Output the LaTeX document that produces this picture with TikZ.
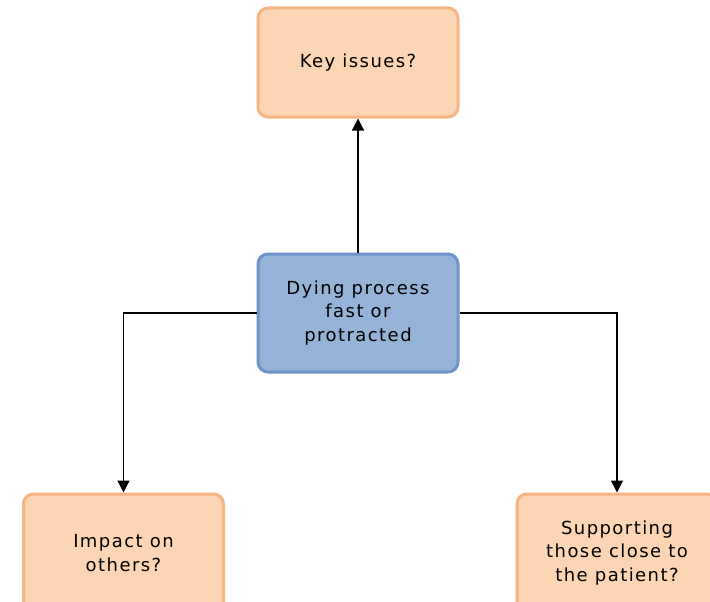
\documentclass[tikz,border=0pt]{standalone}
\usepackage{fontspec}
\setmainfont[LetterSpace=8]{DejaVu Sans}
\usetikzlibrary{arrows.meta}
\definecolor{orfill}{HTML}{FCD5B5}
\definecolor{ordraw}{HTML}{F8B584}
\definecolor{blfill}{HTML}{95B3D7}
\definecolor{bldraw}{HTML}{6F95C8}
\tikzset{
  obox/.style={draw=ordraw, fill=orfill, line width=3pt, rounded corners=10pt,
    minimum width=200pt, minimum height=109pt, align=center, inner sep=0pt,
    font=\fontsize{18}{23.5}\selectfont},
  bbox/.style={obox, draw=bldraw, fill=blfill, minimum height=118pt},
  conn/.style={line width=1.2pt, -{Triangle[length=12pt,width=12pt]}}
}
\begin{document}
\begin{tikzpicture}[x=1pt,y=-1pt]
\useasboundingbox (0,0) rectangle (710,602);
\clip (0,0) rectangle (710,602);
\fill[white] (0,0) rectangle (710,602);
\node[obox] (key) at (358,62.5) {Key issues?};
\node[bbox] (dying) at (358,313) {Dying process\\fast or\\protracted};
\node[obox, minimum height=118pt] (impact) at (123.5,553) {Impact on\\others?};
\node[obox, minimum height=118pt] (support) at (617,553) {Supporting\\those close to\\the patient?};
\draw[conn] (dying.north) -- (key.south);
\draw[conn] (dying.west) -| (impact.north);
\draw[conn] (dying.east) -| (support.north);
\end{tikzpicture}
\end{document}
